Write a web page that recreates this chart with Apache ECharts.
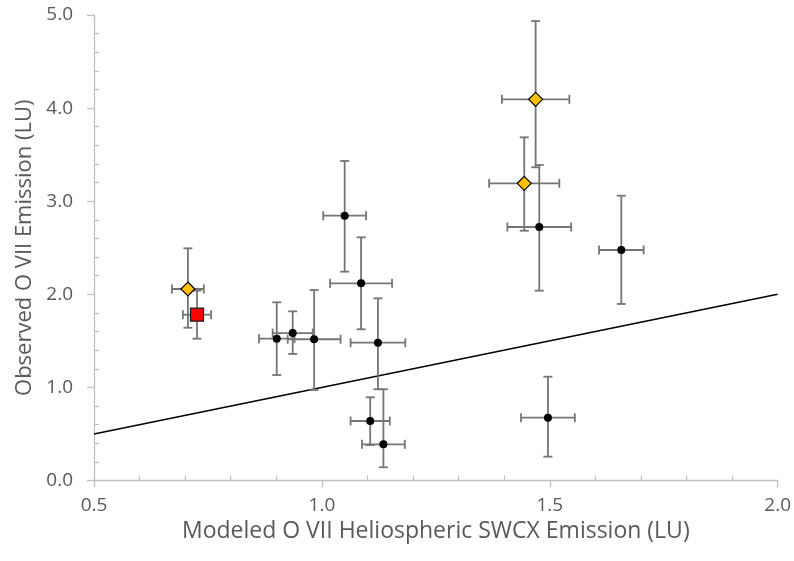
<!DOCTYPE html>
<html>
<head>
<meta charset="utf-8">
<script src="https://cdn.jsdelivr.net/npm/echarts@6/dist/echarts.min.js"></script>
<style>html,body{margin:0;padding:0;background:#fff}#c{width:794px;height:561px}</style>
</head>
<body>
<div id="c"></div>
<script>
// Group labels: 'c' = black circle, 'd' = orange diamond, 's' = red square
const pointGroup = ['d','s','c','c','c','c','c','c','c','c','d','d','c','c','c'];
const xValues    = [0.706,0.726,0.901,0.936,0.983,1.086,1.050,1.123,1.106,1.135,1.469,1.444,1.477,1.496,1.657];
const yValues    = [2.057,1.781,1.523,1.584,1.517,2.118,2.844,1.480,0.639,0.389,4.094,3.192,2.723,0.675,2.476];
const xErrors    = [0.035,0.031,0.039,0.044,0.058,0.068,0.047,0.060,0.043,0.047,0.074,0.077,0.070,0.059,0.049];
const yErrPlus   = [0.437,0.258,0.391,0.233,0.529,0.494,0.588,0.477,0.255,0.591,0.841,0.494,0.666,0.440,0.583];
const yErrMinus  = [0.416,0.258,0.390,0.225,0.545,0.494,0.601,0.500,0.258,0.247,0.730,0.509,0.684,0.419,0.580];
const refLineX   = [0.5, 2.0];
const refLineY   = [0.5, 2.0];
const xTicks = ['0.5','1.0','1.5','2.0'];
const yTicks = ['0.0','1.0','2.0','3.0','4.0','5.0'];

const font = '"Open Sans", "Noto Sans", sans-serif';
const errData = xValues.map((x,i)=>[x, yValues[i], xErrors[i], yErrPlus[i], yErrMinus[i]]);
function pts(g){ const out=[]; xValues.forEach((x,i)=>{ if(pointGroup[i]===g) out.push([x,yValues[i]]); }); return out; }

const chart = echarts.init(document.getElementById('c'));
const axisBase = {
  type:'value',
  axisLine:{show:true, lineStyle:{color:'#bfbfbf', width:1.3}},
  splitLine:{show:false},
  axisLabel:{color:'#595959', fontFamily:font, fontSize:19},
  nameTextStyle:{color:'#595959', fontFamily:font, fontSize:22},
  nameLocation:'middle'
};
chart.setOption({
  animation:false,
  grid:{left:94, right:15, top:15, bottom:80.5, containLabel:false},
  xAxis:[
    Object.assign({}, axisBase, {min:0.5, max:2.0, interval:0.5,
      name:'Modeled O VII Heliospheric SWCX Emission (LU)', nameGap:21,
      nameTextStyle:Object.assign({}, axisBase.nameTextStyle, {fontSize:23}),
      axisTick:{show:true, inside:false, length:7, lineStyle:{color:'#bfbfbf', width:1.3}},
      axisLabel:Object.assign({}, axisBase.axisLabel, {margin:16, formatter:(v)=>xTicks[Math.round((v-0.5)/0.5)]})
    }),
    {type:'value', min:0.5, max:2.0, interval:0.5, position:'bottom',
      axisLine:{show:false}, axisLabel:{show:false}, splitLine:{show:false},
      axisTick:{show:false, inside:true},
      minorTick:{show:true, splitNumber:5, length:5, lineStyle:{color:'#bfbfbf', width:1.2}}}
  ],
  yAxis:[
    Object.assign({}, axisBase, {min:0, max:5, interval:1,
      name:'Observed O VII Emission (LU)', nameGap:50,
      axisTick:{show:true, inside:false, length:7, lineStyle:{color:'#bfbfbf', width:1.3}},
      axisLabel:Object.assign({}, axisBase.axisLabel, {margin:21, formatter:(v)=>yTicks[Math.round(v)]})
    }),
    {type:'value', min:0, max:5, interval:1, position:'left',
      axisLine:{show:false}, axisLabel:{show:false}, splitLine:{show:false},
      axisTick:{show:false, inside:true},
      minorTick:{show:true, splitNumber:5, length:5, lineStyle:{color:'#bfbfbf', width:1.2}}}
  ],
  series:[
    {type:'line', data:refLineX.map((x,i)=>[x,refLineY[i]]), symbol:'none',
      lineStyle:{color:'#000', width:1.6}, z:1},
    {type:'custom', z:2, data:errData, encode:{x:0,y:1},
      renderItem:function(params, api){
        const x=api.value(0), y=api.value(1), ex=api.value(2), ep=api.value(3), em=api.value(4);
        const c=api.coord([x,y]), l=api.coord([x-ex,y]), r=api.coord([x+ex,y]);
        const t=api.coord([x,y+ep]), b=api.coord([x,y-em]);
        const h=4.5;
        const st={stroke:'#757575', lineWidth:1.8, fill:null};
        return {type:'group', children:[
          {type:'line', shape:{x1:l[0],y1:c[1],x2:r[0],y2:c[1]}, style:st},
          {type:'line', shape:{x1:l[0],y1:c[1]-h,x2:l[0],y2:c[1]+h}, style:st},
          {type:'line', shape:{x1:r[0],y1:c[1]-h,x2:r[0],y2:c[1]+h}, style:st},
          {type:'line', shape:{x1:c[0],y1:t[1],x2:c[0],y2:b[1]}, style:st},
          {type:'line', shape:{x1:c[0]-h,y1:t[1],x2:c[0]+h,y2:t[1]}, style:st},
          {type:'line', shape:{x1:c[0]-h,y1:b[1],x2:c[0]+h,y2:b[1]}, style:st}
        ]};
      }},
    {type:'scatter', z:3, data:pts('c'), symbol:'circle', symbolSize:8,
      itemStyle:{color:'#000', opacity:1}},
    {type:'scatter', z:3, data:pts('d'), symbol:'diamond', symbolSize:[14,14],
      itemStyle:{color:'#FFC000', borderColor:'#000', borderWidth:1.2, opacity:1}},
    {type:'scatter', z:3, data:pts('s'), symbol:'rect', symbolSize:[13,13],
      itemStyle:{color:'#FF0000', borderColor:'#1a1a1a', borderWidth:1.2, opacity:1}}
  ]
});
</script>
</body>
</html>
